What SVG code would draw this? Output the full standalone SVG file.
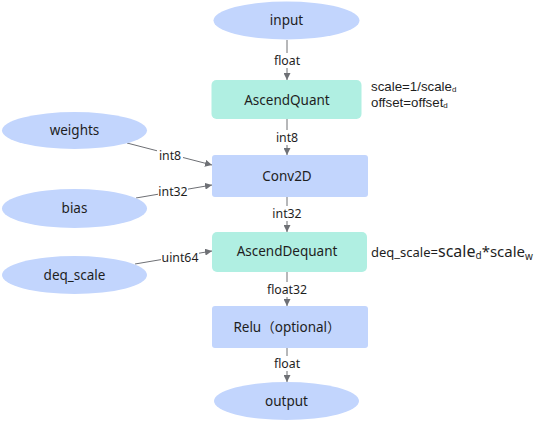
<svg xmlns="http://www.w3.org/2000/svg" width="538" height="423" viewBox="0 0 538 423">
<style>
.ell{fill:#c2d5fd;stroke:none}
.blue{fill:#c2d5fd;stroke:none}
.mint{fill:#b0efe2;stroke:none}
.nt{font-family:"Noto Sans","Noto Sans CJK SC",sans-serif;font-size:13.5px;fill:#1e1e1e;text-anchor:middle;dominant-baseline:central}
.et{font-family:"Noto Sans",sans-serif;font-size:12.3px;fill:#1e1e1e;text-anchor:middle;dominant-baseline:central}
.lbg{fill:#ffffff}
.edge{stroke:#6e7075;stroke-width:1;fill:none;marker-end:url(#arr)}
.an{font-family:"Liberation Sans",Arial,sans-serif;font-size:13.3px;fill:#1e1e1e}
.an2{font-family:"Noto Sans",sans-serif;font-size:13px;fill:#1e1e1e}
</style>
<defs>
<marker id="arr" viewBox="0 0 10 10" refX="10" refY="5" markerWidth="7" markerHeight="7" markerUnits="userSpaceOnUse" orient="auto">
<path d="M0,0 L10,5 L0,10 z" fill="#6e7075"/>
</marker>
</defs>
<rect width="538" height="423" fill="#ffffff"/>
<g id="connectors">
<line class="edge" x1="287" y1="40" x2="287" y2="80"/>
<line class="edge" x1="287" y1="119" x2="287" y2="155"/>
<line class="edge" x1="287" y1="197" x2="287" y2="232"/>
<line class="edge" x1="287" y1="272" x2="287" y2="306"/>
<line class="edge" x1="287" y1="348" x2="287" y2="382"/>
<line class="edge" x1="127" y1="143" x2="212" y2="165"/>
<line class="edge" x1="136" y1="198" x2="212" y2="185"/>
<line class="edge" x1="135" y1="264" x2="212" y2="251"/>
<rect class="lbg" x="271" y="53" width="32" height="15"/>
<text class="et" x="287" y="60.5">float</text>
<rect class="lbg" x="273" y="130" width="28" height="15"/>
<text class="et" x="287" y="137.5">int8</text>
<rect class="lbg" x="271" y="206" width="32" height="15"/>
<text class="et" x="287" y="213">int32</text>
<rect class="lbg" x="266" y="282" width="42" height="15"/>
<text class="et" x="287" y="289">float32</text>
<rect class="lbg" x="271" y="356" width="32" height="15"/>
<text class="et" x="287" y="363.5">float</text>
<rect class="lbg" x="157" y="148" width="26" height="14"/>
<text class="et" x="170" y="155">int8</text>
<rect class="lbg" x="158" y="184" width="30" height="14"/>
<text class="et" x="173" y="191">int32</text>
<rect class="lbg" x="161" y="250" width="38" height="14"/>
<text class="et" x="180" y="257">uint64</text>
</g>
<g id="input">
<ellipse class="ell" cx="286.5" cy="20.5" rx="73" ry="19"/>
<text class="nt" x="286.5" y="20">input</text>
</g>
<g id="AscendQuant">
<rect class="mint" x="211.5" y="80" width="150" height="39" rx="5"/>
<text class="nt" x="287" y="99.5">AscendQuant</text>
</g>
<g id="weights">
<ellipse class="ell" cx="74.5" cy="130.5" rx="72.5" ry="18.5"/>
<text class="nt" x="74.5" y="130">weights</text>
</g>
<g id="Conv2D">
<rect class="blue" x="212" y="155" width="156" height="42" rx="3"/>
<text class="nt" x="287" y="175.5">Conv2D</text>
</g>
<g id="bias">
<ellipse class="ell" cx="74.5" cy="208.5" rx="72.5" ry="19.5"/>
<text class="nt" x="74.5" y="208">bias</text>
</g>
<g id="AscendDequant">
<rect class="mint" x="212" y="232" width="155" height="40" rx="5"/>
<text class="nt" x="287" y="250.5">AscendDequant</text>
</g>
<g id="deq_scale">
<ellipse class="ell" cx="74.5" cy="275" rx="72.5" ry="19"/>
<text class="nt" x="74.5" y="275">deq_scale</text>
</g>
<g id="Relu">
<rect class="blue" x="212" y="306" width="156" height="42" rx="3"/>
<text class="nt" x="287" y="326.5">Relu（optional）</text>
</g>
<g id="output">
<ellipse class="ell" cx="286.5" cy="401" rx="72.5" ry="19"/>
<text class="nt" x="286.5" y="401">output</text>
</g>
<g id="annotations">
<text class="an" x="371" y="91">scale=1/scale<tspan font-size="8" dy="1">d</tspan><tspan x="371" dy="15">offset=offset</tspan><tspan font-size="8" dy="1">d</tspan></text>
<text class="an2" x="371" y="257">deq_scale=<tspan font-size="16">scale</tspan><tspan font-size="10" dy="2">d</tspan><tspan font-size="15" dy="-2">*scale</tspan><tspan font-size="10" dy="3">w</tspan></text>
</g>
</svg>
